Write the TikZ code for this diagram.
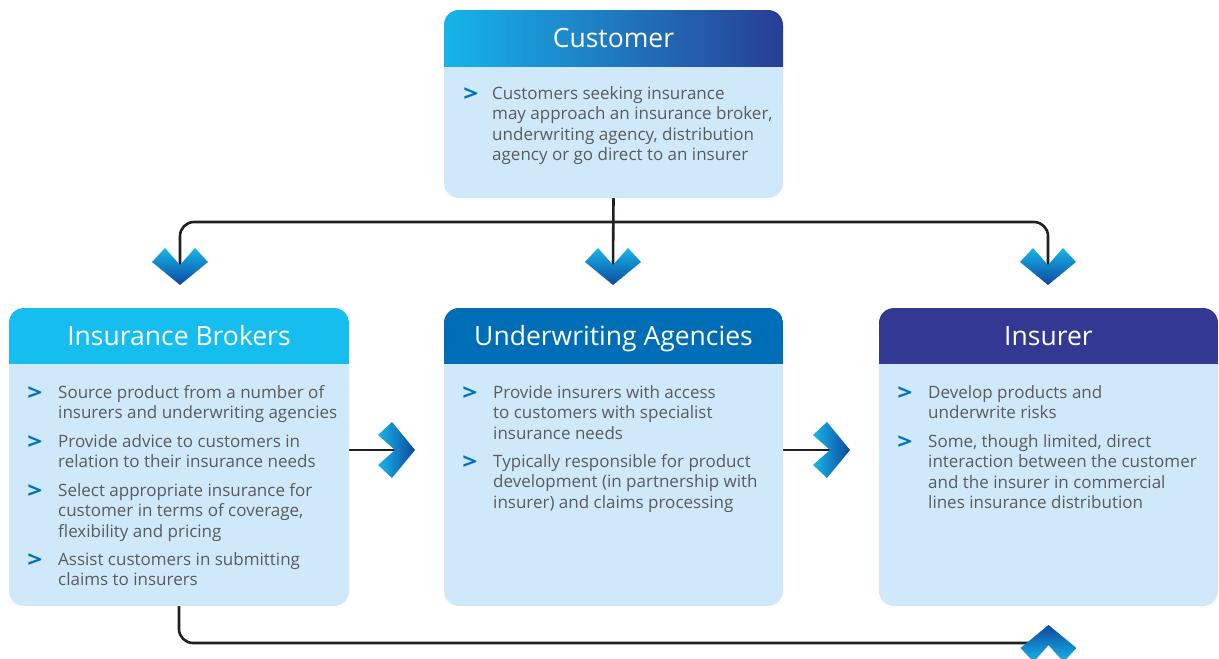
\documentclass[tikz,border=0pt]{standalone}
\usepackage{fontspec}
\setmainfont{Open Sans}
\usetikzlibrary{positioning}
\usetikzlibrary{backgrounds}
\definecolor{paleblue}{RGB}{207,233,250}
\definecolor{textgrey}{RGB}{90,91,93}
\definecolor{bulblue}{RGB}{0,114,188}
\definecolor{brokcol}{RGB}{22,190,240}
\definecolor{undcol}{RGB}{0,110,183}
\definecolor{inscol}{RGB}{51,56,146}
\definecolor{custleft}{RGB}{22,180,233}
\definecolor{custmid}{RGB}{0,96,170}
\definecolor{custright}{RGB}{40,62,150}
\definecolor{chevtop}{RGB}{24,182,232}
\definecolor{chevbot}{RGB}{12,72,160}
\definecolor{linkgrey}{RGB}{35,31,32}

\begin{document}
\begin{tikzpicture}[x=1pt,y=-1pt,
    panel/.style={fill=paleblue,rounded corners=15pt,inner sep=0pt,minimum width=340pt,minimum height=298pt},
    hdr/.style={path picture={\fill[sharp corners,#1] (path picture bounding box.north west) rectangle ([yshift=-56pt]path picture bounding box.north east);}},
    title/.style={text=white,anchor=base,inner sep=0pt,font=\fontsize{26.5}{30}\selectfont},
    item/.style={anchor=north west,inner sep=0pt,align=left,text=textgrey,font=\fontsize{17}{20.5}\selectfont},
    bul/.style={text=bulblue,anchor=base,inner sep=0pt,yshift=-2pt,font=\bfseries\fontsize{22}{22}\selectfont},
    link/.style={draw=linkgrey,line width=2.6pt,rounded corners=14pt},
    chev/.pic={\path[#1] (0,0) -- (-28,-23) -- (-15,-37) -- (0,-20) -- (15,-37) -- (28,-23) -- cycle;
               \coordinate (-end) at (0,-18);}]
    \useasboundingbox (0,0) rectangle (1219,659);

    % panels
    \node[panel,minimum width=339pt,minimum height=188pt,hdr={left color=custleft,middle color=custmid,right color=custright}] (cust) at (613.5,104) {};
    \node[panel,hdr={fill=brokcol}] (brk) at (179,457) {};
    \node[panel,minimum width=339pt,hdr={fill=undcol}] (und) at (613.5,457) {};
    \node[panel,minimum width=339pt,hdr={fill=inscol}] (ins) at (1048.5,457) {};

    \node[title] (custT) at ([yshift=-38pt]cust.north) {Customer};
    \node[title] (brkT) at ([yshift=-38pt]brk.north) {Insurance Brokers};
    \node[title] (undT) at ([yshift=-38pt]und.north) {Underwriting Agencies};
    \node[title] (insT) at ([yshift=-38pt]ins.north) {Insurer};

    % bullet points
    \node[bul] (c1b) at (471,99) {\scalebox{1.2}[1]{>}};
    \node[item] (c1) at (492,86) {Customers seeking insurance\\may approach an insurance broker,\\underwriting agency, distribution\\agency or go direct to an insurer};

    \node[bul] (b1b) at (35,398) {\scalebox{1.2}[1]{>}};
    \node[item] (b1) at (58,385) {Source product from a number of\\insurers and underwriting agencies};
    \node[bul] (b2b) at (35,447) {\scalebox{1.2}[1]{>}};
    \node[item] (b2) at (58,434) {Provide advice to customers in\\relation to their insurance needs};
    \node[bul] (b3b) at (35,496) {\scalebox{1.2}[1]{>}};
    \node[item] (b3) at (58,483) {Select appropriate insurance for\\customer in terms of coverage,\\flexibility and pricing};
    \node[bul] (b4b) at (35,565) {\scalebox{1.2}[1]{>}};
    \node[item] (b4) at (58,552) {Assist customers in submitting\\claims to insurers};

    \node[bul] (u1b) at (470,398) {\scalebox{1.2}[1]{>}};
    \node[item] (u1) at (493,385) {Provide insurers with access\\to customers with specialist\\insurance needs};
    \node[bul] (u2b) at (470,467) {\scalebox{1.2}[1]{>}};
    \node[item] (u2) at (493,454) {Typically responsible for product\\development (in partnership with\\insurer) and claims processing};

    \node[bul] (i1b) at (905,398) {\scalebox{1.2}[1]{>}};
    \node[item] (i1) at (928,385) {Develop products and\\underwrite risks};
    \node[bul] (i2b) at (905,447) {\scalebox{1.2}[1]{>}};
    \node[item] (i2) at (928,434) {Some, though limited, direct\\interaction between the customer\\and the insurer in commercial\\lines insurance distribution};

    % chevrons
    \pic (dnL) at (180,285) {chev={top color=chevtop,bottom color=chevbot}};
    \pic (dnM) at (613,285) {chev={top color=chevtop,bottom color=chevbot}};
    \pic (dnR) at (1048,285) {chev={top color=chevtop,bottom color=chevbot}};
    \pic[rotate=90] (rtA) at (415,450) {chev={left color=chevtop,right color=chevbot}};
    \pic[rotate=90] (rtB) at (850,450) {chev={left color=chevtop,right color=chevbot}};
    \pic[rotate=180] (upC) at (1048.5,625) {chev={top color=chevbot,bottom color=chevtop}};

    % connectors
    \coordinate (split) at (613,222);
    \begin{scope}[on background layer]
        \draw[link] (cust.south) -- (dnM-end);
        \draw[link] (dnL-end) |- (split) -| (dnR-end);
        \draw[link] (brk.east |- rtA-end) -- (rtA-end);
        \draw[link] (und.east |- rtB-end) -- (rtB-end);
        \draw[link] (brk.south) |- (upC-end);
    \end{scope}
\end{tikzpicture}
\end{document}
